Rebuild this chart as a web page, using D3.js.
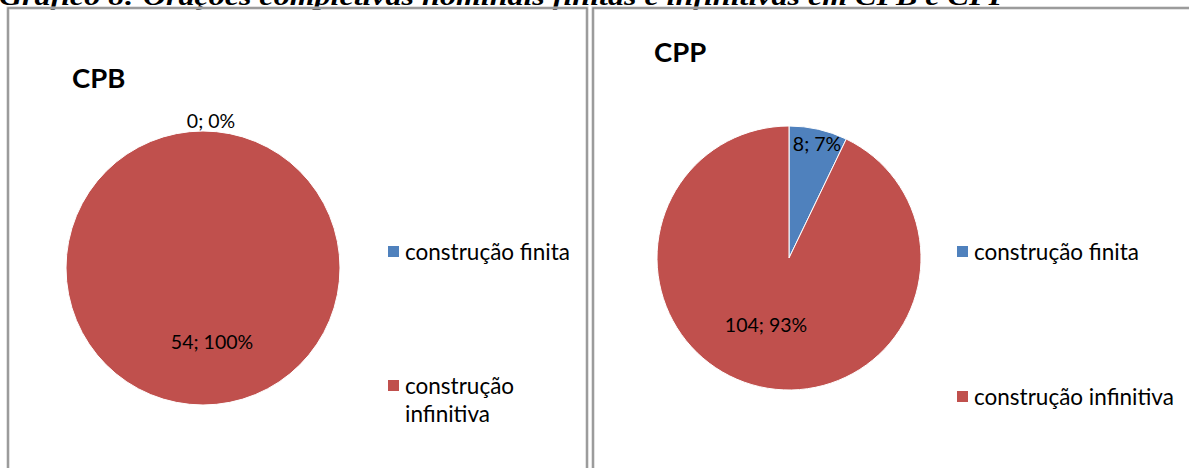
<!DOCTYPE html>
<html>
<head>
<meta charset="utf-8">
<script src="https://cdn.jsdelivr.net/npm/d3@7"></script>
<style>
  body { margin: 0; background: #fff; }
  svg text { font-family: Lato, "Noto Sans", sans-serif; }
</style>
</head>
<body>
<div id="chart"></div>
<script>

// data
const categories = ["construção finita", "construção infinitiva"];
const cpbValues = [0, 54];
const cppValues = [8, 104];
const cpbLabels = ["0; 0%", "54; 100%"];
const cppLabels = ["8; 7%", "104; 93%"];
const pageTitle = "Gráfico 8: Orações completivas nominais finitas e infinitivas em CPB e CPP";

const W = 1189, H = 468;

const svg = d3.select("#chart")
  .append("svg")
    .attr("width", W)
    .attr("height", H);

const color = d3.scaleOrdinal()
  .domain(categories)
  .range(["#4f81bd", "#c0504d"]);

// title cut off at the top of the picture
svg.append("text")
  .attr("x", -1)
  .attr("y", 5)
  .style("font-family", "'Liberation Serif', serif")
  .style("font-weight", "bold")
  .style("font-style", "italic")
  .style("font-size", "26px")
  .attr("textLength", 1009)
  .attr("lengthAdjust", "spacingAndGlyphs")
  .text(pageTitle);

// one panel per corpus
const panels = [
  {name: "CPB", values: cpbValues, labels: cpbLabels, x0: 8, x1: 587, cx: 203, cy: 268, r: 137,
   titleX: 72, titleY: 88, legendX: 388, legendY: [252, 386], wrap: true,
   labelPos: [[211, 121], [212, 342]]},
  {name: "CPP", values: cppValues, labels: cppLabels, x0: 593, x1: 1200, cx: 789, cy: 258, r: 132,
   titleX: 654, titleY: 62, legendX: 957, legendY: [252, 397], wrap: false,
   labelPos: [[817, 144], [766, 325]]}
];

const pie = d3.pie().sort(null).value(d => d);
const arc = d3.arc().innerRadius(0);

panels.forEach(function(p) {
  const g = svg.append("g");

  // frame (double grey line)
  g.append("rect")
    .attr("x", p.x0).attr("y", 8)
    .attr("width", p.x1 - p.x0).attr("height", H)
    .attr("fill", "none")
    .attr("stroke", "#c8c8c8")
    .attr("stroke-width", 3);
  g.append("rect")
    .attr("x", p.x0).attr("y", 8)
    .attr("width", p.x1 - p.x0).attr("height", H)
    .attr("fill", "none")
    .attr("stroke", "#7f7f7f")
    .attr("stroke-width", 1.2);

  g.append("text")
    .attr("x", p.titleX)
    .attr("y", p.titleY)
    .style("font-weight", "bold")
    .style("font-size", "27.5px")
    .text(p.name);

  const arcs = pie(p.values);
  const pg = g.append("g").attr("transform", `translate(${p.cx},${p.cy})`);
  pg.selectAll("path")
    .data(arcs)
    .join("path")
      .attr("d", d => arc.outerRadius(p.r)(d))
      .attr("fill", (d, i) => color(categories[i]))
      .attr("stroke", "#fff")
      .attr("stroke-width", d => d.endAngle - d.startAngle > 0 ? 1 : 0);

  // data labels
  g.selectAll("text.lbl")
    .data(p.labels)
    .join("text")
      .attr("class", "lbl")
      .attr("x", (d, i) => p.labelPos[i][0])
      .attr("y", (d, i) => p.labelPos[i][1])
      .attr("dy", "0.35em")
      .attr("text-anchor", "middle")
      .style("font-size", "19.5px")
      .text(d => d);

  // legend
  categories.forEach(function(c, i) {
    const ly = p.legendY[i];
    g.append("rect")
      .attr("x", p.legendX).attr("y", ly - 6)
      .attr("width", 11).attr("height", 11)
      .attr("fill", color(c));
    const t = g.append("text")
      .attr("x", p.legendX + 17)
      .attr("y", ly)
      .attr("dy", "0.35em")
      .style("font-size", "22.5px");
    if (p.wrap && i === 1) {
      const words = c.split(" ");
      t.append("tspan").attr("x", p.legendX + 17).text(words[0]);
      t.append("tspan").attr("x", p.legendX + 17).attr("dy", 28).text(words[1]);
    } else {
      t.text(c);
    }
  });
});

</script>
</body>
</html>
